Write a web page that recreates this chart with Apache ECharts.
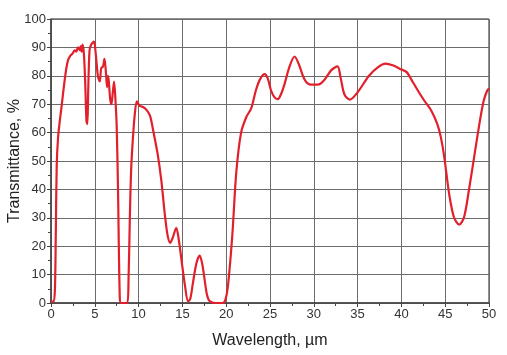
<!DOCTYPE html>
<html>
<head>
<meta charset="utf-8">
<script src="https://cdn.jsdelivr.net/npm/echarts@6/dist/echarts.min.js"></script>
<style>
  html, body { margin: 0; padding: 0; background: #fff; }
  #chart { width: 507px; height: 355px; }
</style>
</head>
<body>
<div id="chart"></div>
<script>
// wavelength, um
var wavelength = [
  0, 0.3, 0.45, 0.55, 0.65, 0.8, 1.0, 1.2, 1.5, 1.77, 1.95, 2.2, 2.5, 2.7, 2.9, 3.0, 3.1, 3.3, 3.4, 3.5,
  3.6, 3.75, 3.9, 4.05, 4.15, 4.25, 4.4, 4.6, 4.9, 5.1, 5.35, 5.57, 5.75, 5.9, 6.1, 6.25, 6.4, 6.5, 6.6, 6.75,
  6.9, 7.05, 7.2, 7.35, 7.5, 7.65, 7.85, 8.0, 8.7, 8.85, 9.0, 9.15, 9.35, 9.55, 9.8, 10.1, 10.5, 10.9, 11.3, 11.65,
  12.2, 12.6, 13.0, 13.3, 13.6, 13.9, 14.3, 14.6, 14.9, 15.3, 15.65, 15.9, 16.2, 16.6, 16.97, 17.25, 17.5, 17.8, 18.1, 18.8,
  19.6, 19.9, 20.2, 20.7, 21.15, 21.7, 22.3, 22.85, 23.4, 23.9, 24.4, 24.75, 25.1, 25.5, 25.9, 26.25, 26.65, 27.2, 27.8, 28.3,
  28.9, 29.5, 30.05, 30.6, 31.2, 32.0, 32.7, 33.1, 33.5, 34.1, 35.0, 36.3, 37.3, 38.2, 39.0, 39.8, 40.6, 41.3, 42.0, 42.6,
  43.4, 44.1, 44.5, 44.9, 45.45, 46.0, 46.6, 47.15, 47.7, 48.3, 48.9, 49.4, 49.8, 50
];
// transmittance, %
var transmittance = [
  0.5, 0.5, 5, 25, 48, 58, 64, 69, 77, 83, 85.5, 87, 88, 89, 88.5, 89.5, 90, 89, 90.5, 88.5,
  91, 88, 78, 64, 63, 75, 89, 91, 92, 88, 80, 78, 83, 83, 86, 82, 76, 80, 78, 72,
  70, 74, 78, 72, 62, 40, 2, 0, 0, 8, 30, 47, 58, 66, 71, 69.5, 69, 68, 66, 61,
  52, 43, 31, 24, 21.2, 23, 26.5, 22, 15, 6, 0.5, 1.5, 7, 14, 16.7, 14, 9, 3, 0.7, 0,
  0, 1, 6, 24, 46, 60, 65.5, 68.5, 75, 79, 80.6, 79, 75, 72.5, 71.8, 73.5, 77, 83, 86.8, 84,
  79, 77, 76.9, 77, 78.5, 82, 83.3, 78.7, 73.4, 71.6, 74.2, 80, 83, 84.3, 83.7, 82.5, 81.3, 77.8, 74.2, 71.3,
  67.8, 63, 58.4, 51.3, 38.4, 30.2, 27.6, 30.2, 39.6, 51.3, 63, 71.3, 74.8, 75.5
];

var points = [];
for (var i = 0; i < wavelength.length; i++) {
  points.push([wavelength[i], transmittance[i]]);
}

var chart = echarts.init(document.getElementById('chart'), null, { renderer: 'canvas' });
var font = 'Liberation Sans, Arial, sans-serif';

chart.setOption({
  animation: false,
  grid: {
    left: 51, right: 18, top: 19, bottom: 52,
    outerBoundsMode: 'none',
    containLabel: false,
    show: true, borderColor: '#222', borderWidth: 1, backgroundColor: 'transparent'
  },
  xAxis: {
    type: 'value', min: 0, max: 50, interval: 5,
    name: 'Wavelength, \u00b5m', nameLocation: 'middle', nameGap: 30,
    nameMoveOverlap: false,
    nameTextStyle: { fontSize: 16, color: '#222', fontFamily: font },
    axisLine: { show: true, lineStyle: { color: '#444', width: 1.5 } },
    axisTick: { show: true, length: 4, lineStyle: { color: '#444' } },
    minorTick: { show: true, splitNumber: 2, length: 3, lineStyle: { color: '#444' } },
    axisLabel: { fontSize: 13, color: '#333', fontFamily: font, margin: 5 },
    splitLine: { show: true, lineStyle: { color: '#6b6b6b', width: 1 } }
  },
  yAxis: {
    type: 'value', min: 0, max: 100, interval: 10,
    name: 'Transmittance, %', nameLocation: 'middle', nameGap: 28,
    nameMoveOverlap: false,
    nameTextStyle: { fontSize: 16, color: '#222', fontFamily: font },
    axisLine: { show: true, lineStyle: { color: '#444', width: 1.5 } },
    axisTick: { show: true, length: 4, lineStyle: { color: '#444' } },
    minorTick: { show: true, splitNumber: 2, length: 3, lineStyle: { color: '#444' } },
    axisLabel: { fontSize: 13, color: '#333', fontFamily: font, margin: 5 },
    splitLine: { show: true, lineStyle: { color: '#6b6b6b', width: 1 } }
  },
  series: [{
    type: 'line',
    data: points,
    smooth: 0.3,
    showSymbol: false,
    clip: true,
    lineStyle: { color: '#e2202b', width: 2.2 }
  }]
});
</script>
</body>
</html>
